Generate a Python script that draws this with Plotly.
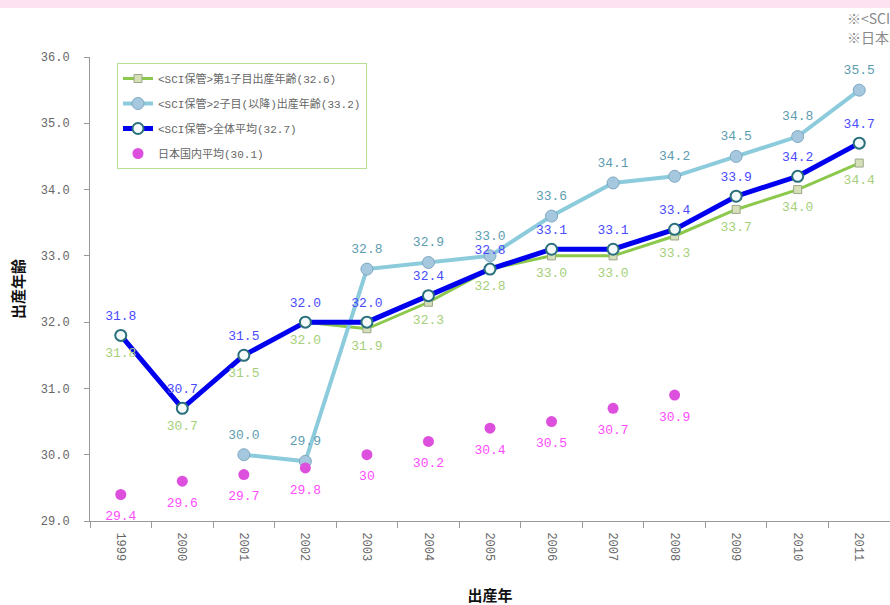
import plotly.graph_objects as go

years = ["1999", "2000", "2001", "2002", "2003", "2004", "2005", "2006", "2007", "2008", "2009", "2010", "2011"]
first_child = [31.8, 30.7, 31.5, 32.0, 31.9, 32.3, 32.8, 33.0, 33.0, 33.3, 33.7, 34.0, 34.4]
second_child = [None, None, 30.0, 29.9, 32.8, 32.9, 33.0, 33.6, 34.1, 34.2, 34.5, 34.8, 35.5]
overall = [31.8, 30.7, 31.5, 32.0, 32.0, 32.4, 32.8, 33.1, 33.1, 33.4, 33.9, 34.2, 34.7]
japan = [29.4, 29.6, 29.7, 29.8, 30, 30.2, 30.4, 30.5, 30.7, 30.9, None, None, None]
japan_labels = ["29.4", "29.6", "29.7", "29.8", "30", "30.2", "30.4", "30.5", "30.7", "30.9", "", "", ""]

names = [
    "&lt;SCI保管&gt;第1子目出産年齢(32.6)",
    "&lt;SCI保管&gt;2子目(以降)出産年齢(33.2)",
    "&lt;SCI保管&gt;全体平均(32.7)",
    "日本国内平均(30.1)",
]

MONO = "Liberation Mono, Noto Sans CJK JP, monospace"

def fmt(vals):
    return ["" if v is None else f"{v:.1f}" for v in vals]

fig = go.Figure()
fig.add_trace(go.Scatter(
    x=years, y=first_child, name=names[0], legendgroup="a",
    mode="lines+markers",
    line=dict(color="#8cc84b", width=3),
    marker=dict(symbol="square", size=8, color="#d6dfb8", line=dict(color="#9aa88a", width=1)),
))
fig.add_trace(go.Scatter(
    x=years, y=second_child, name=names[1], legendgroup="b",
    mode="lines+markers",
    line=dict(color="#8ccbdc", width=4),
    marker=dict(symbol="circle", size=12, color="#a6c8de", line=dict(color="#7ea8c2", width=1)),
))
fig.add_trace(go.Scatter(
    x=years, y=overall, name=names[2], legendgroup="c",
    mode="lines+markers",
    line=dict(color="#0000ee", width=5),
    marker=dict(symbol="circle", size=11, color="#f4fafa", line=dict(color="#2a6f7c", width=2)),
))
fig.add_trace(go.Scatter(
    x=years, y=japan, name=names[3], legendgroup="d",
    mode="markers",
    marker=dict(symbol="circle", size=11, color="#dd50dd", line=dict(width=0)),
))

# data labels (transparent markers only set the label offset)
label_specs = [
    (first_child, fmt(first_child), "bottom center", "#a5d07a", 17, "a"),
    (second_child, fmt(second_child), "top center", "#5e9cb0", 19, "b"),
    (overall, fmt(overall), "top center", "#4a4aff", 18, "c"),
    (japan, japan_labels, "bottom center", "#ff4cff", 24, "d"),
]
for vals, txt, pos, col, sz, grp in label_specs:
    fig.add_trace(go.Scatter(
        x=years, y=vals, mode="markers+text", text=txt, textposition=pos,
        textfont=dict(family=MONO, size=13, color=col),
        marker=dict(size=sz, opacity=0), showlegend=False, hoverinfo="skip",
        legendgroup=grp,
    ))

# top decoration band
fig.add_shape(type="rect", xref="paper", yref="paper",
              x0=-0.2, x1=1.2, y0=(521 - 8) / 464, y1=1.2,
              fillcolor="#fde3f1", line=dict(width=0), layer="below")

fig.add_annotation(xref="paper", yref="paper", x=(845 - 90) / 800, y=(521 - 18) / 464,
                   xanchor="left", yanchor="middle", showarrow=False,
                   text="※&lt;SCI保管&gt;データ", font=dict(family="Noto Sans CJK JP", size=14, color="#8a8a8a"))
fig.add_annotation(xref="paper", yref="paper", x=(845 - 90) / 800, y=(521 - 37) / 464,
                   xanchor="left", yanchor="middle", showarrow=False,
                   text="※日本国内平均", font=dict(family="Noto Sans CJK JP", size=14, color="#8a8a8a"))

fig.update_layout(
    width=890, height=605,
    margin=dict(l=90, r=0, t=57, b=84),
    paper_bgcolor="white", plot_bgcolor="white",
    showlegend=True,
    legend=dict(
        x=(117 - 90) / 800, y=(521 - 63) / 464, xanchor="left", yanchor="top",
        bgcolor="white", bordercolor="#b9dd92", borderwidth=1,
        font=dict(family=MONO, size=11, color="#666666"),
        traceorder="grouped", tracegroupgap=6,
    ),
    xaxis=dict(
        type="category", range=[-0.5, 12.5], tickangle=90,
        showline=True, linecolor="#999999", linewidth=1,
        ticks="outside", tickson="boundaries", ticklen=6, tickcolor="#999999",
        ticklabelstandoff=8,
        showgrid=False, zeroline=False,
        tickfont=dict(family=MONO, size=12, color="#666666"),
        title=dict(text="<b>出産年</b>", font=dict(family="Noto Sans CJK JP", size=15, color="#111111"), standoff=32),
    ),
    yaxis=dict(
        range=[29, 36], tickvals=[29, 30, 31, 32, 33, 34, 35, 36], tickformat=".1f",
        showline=True, linecolor="#999999", linewidth=1,
        ticks="outside", ticklen=5, tickcolor="#999999",
        ticklabelstandoff=12,
        showgrid=False, zeroline=False,
        tickfont=dict(family=MONO, size=12, color="#666666"),
        title=dict(text="<b>出産年齢</b>", font=dict(family="Noto Sans CJK JP", size=15, color="#111111"), standoff=12),
    ),
)

fig.write_html("out.html", config={"displayModeBar": False},
               post_script="document.body.style.margin='0';")
